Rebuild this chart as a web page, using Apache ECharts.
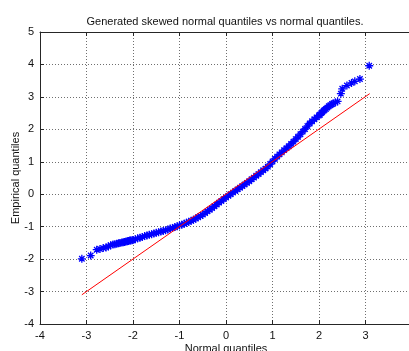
<!DOCTYPE html>
<html>
<head>
<meta charset="utf-8">
<script src="https://cdn.jsdelivr.net/npm/echarts@6/dist/echarts.min.js"></script>
<style>
  html, body { margin: 0; padding: 0; background: #ffffff; }
  #chart { width: 409px; height: 351px; }
</style>
</head>
<body>
<div id="chart"></div>
<script>
// Normal (theoretical) quantiles of the sample
const normalQuantiles = [
  -3.10, -2.91, -2.78, -2.71, -2.64, -2.58, -2.53, -2.48, -2.43, -2.39,
  -2.35, -2.31, -2.28, -2.24, -2.21, -2.18, -2.15, -2.12, -2.10, -2.07,
  -2.05, -2.02,
  -2.00, -1.95, -1.90, -1.85, -1.80, -1.75, -1.70, -1.65, -1.60, -1.55,
  -1.50, -1.45, -1.40, -1.35, -1.30, -1.25, -1.20, -1.15, -1.10, -1.05,
  -1.00, -0.95, -0.90, -0.85, -0.80, -0.75, -0.70, -0.65, -0.60, -0.55,
  -0.50, -0.45, -0.40, -0.35, -0.30, -0.25, -0.20, -0.15, -0.10, -0.05,
   0.00,  0.05,  0.10,  0.15,  0.20,  0.25,  0.30,  0.35,  0.40,  0.45,
   0.50,  0.55,  0.60,  0.65,  0.70,  0.75,  0.80,  0.85,  0.90,  0.95,
   1.00,  1.05,  1.10,  1.15,  1.20,  1.25,  1.30,  1.35,  1.40,  1.45,
   1.50,  1.55,  1.60,  1.65,  1.70,  1.75,  1.80,  1.85,  1.90,  1.95,
   2.00,  2.02,  2.05,  2.07,  2.10,  2.12,  2.15,  2.18,  2.21,  2.24,
   2.28,  2.31,  2.35,  2.40,
   2.47,  2.50,  2.60,  2.70,  2.77,  2.88,  3.08
];

// Empirical quantiles of the generated skewed sample
const empiricalQuantiles = [
  -1.99, -1.89, -1.71, -1.69, -1.66, -1.64, -1.61, -1.57, -1.55, -1.54,
  -1.53, -1.51, -1.50, -1.49, -1.48, -1.47, -1.46, -1.45, -1.44, -1.43,
  -1.43, -1.42,
  -1.41, -1.39, -1.36, -1.34, -1.32, -1.29, -1.27, -1.25, -1.23, -1.21,
  -1.19, -1.17, -1.15, -1.13, -1.11, -1.09, -1.06, -1.04, -1.01, -0.99,
  -0.96, -0.94, -0.91, -0.88, -0.85, -0.82, -0.79, -0.75, -0.71, -0.67,
  -0.63, -0.58, -0.53, -0.48, -0.43, -0.37, -0.32, -0.26, -0.21, -0.15,
  -0.10, -0.05,  0.00,  0.05,  0.10,  0.15,  0.20,  0.25,  0.30,  0.35,
   0.40,  0.46,  0.51,  0.57,  0.62,  0.68,  0.74,  0.79,  0.85,  0.93,
   1.01,  1.09,  1.16,  1.23,  1.29,  1.36,  1.42,  1.48,  1.55,  1.62,
   1.70,  1.77,  1.85,  1.93,  2.01,  2.10,  2.18,  2.25,  2.31,  2.37,
   2.43,  2.45,  2.50,  2.53,  2.57,  2.60,  2.63,  2.67,  2.71,  2.74,
   2.78,  2.80,  2.83,  2.86,
   3.10,  3.25,  3.35,  3.43,  3.48,  3.55,  3.96
];

// Reference line end points (x, y)
const refLineX = [-3.10, 3.09];
const refLineY = [-3.10, 3.10];

// Axis ranges and ticks
const xTicks = [-4, -3, -2, -1, 0, 1, 2, 3, 4];
const yTicks = [-4, -3, -2, -1, 0, 1, 2, 3, 4, 5];

const titleText = 'Generated skewed normal quantiles vs normal quantiles.';
const xName = 'Normal quantiles';
const yName = 'Empirical quantiles';

const points = normalQuantiles.map((x, i) => [x, empiricalQuantiles[i]]);
const refLine = refLineX.map((x, i) => [x, refLineY[i]]);

const FONT = 'Liberation Sans, Arial, Helvetica, sans-serif';
const axisColor = '#262626';
const gridLine = { show: true, lineStyle: { color: '#6f6f6f', width: 1, type: [1, 2] } };

const chart = echarts.init(document.getElementById('chart'), null, { renderer: 'canvas' });
chart.setOption({
  animation: false,
  backgroundColor: '#ffffff',
  title: {
    text: titleText,
    left: 220,
    top: 11,
    textAlign: 'center',
    textStyle: { fontFamily: FONT, fontSize: 11, fontWeight: 'normal', color: '#111' }
  },
  // the plot box runs slightly past the right edge of the canvas
  grid: { left: 40, top: 32, right: -3, bottom: 27, containLabel: false, outerBoundsMode: 'none' },
  xAxis: [{
    type: 'value',
    min: xTicks[0], max: xTicks[xTicks.length - 1], interval: 1,
    position: 'bottom',
    name: xName, nameLocation: 'middle', nameGap: 19, nameMoveOverlap: false,
    nameTextStyle: { fontFamily: FONT, fontSize: 11, color: '#111' },
    axisLine: { show: true, onZero: false, lineStyle: { color: axisColor, width: 1 } },
    axisTick: { show: true, inside: true, length: 4, lineStyle: { color: axisColor } },
    axisLabel: { fontFamily: FONT, fontSize: 11, color: '#111', margin: 6 },
    splitLine: gridLine
  }, {
    type: 'value',
    min: xTicks[0], max: xTicks[xTicks.length - 1], interval: 1,
    position: 'top',
    axisLine: { show: true, onZero: false, lineStyle: { color: axisColor, width: 1 } },
    axisTick: { show: true, inside: true, length: 4, lineStyle: { color: axisColor } },
    axisLabel: { show: false },
    splitLine: { show: false }
  }],
  yAxis: [{
    type: 'value',
    min: yTicks[0], max: yTicks[yTicks.length - 1], interval: 1,
    position: 'left',
    name: yName, nameLocation: 'middle', nameGap: 19, nameMoveOverlap: false,
    nameTextStyle: { fontFamily: FONT, fontSize: 11, color: '#111' },
    axisLine: { show: true, onZero: false, lineStyle: { color: axisColor, width: 1 } },
    axisTick: { show: true, inside: true, length: 4, lineStyle: { color: axisColor } },
    axisLabel: { fontFamily: FONT, fontSize: 11, color: '#111', margin: 6 },
    splitLine: gridLine
  }],
  series: [{
    type: 'scatter',
    data: points,
    symbol: 'path://M5,0L5,10M0,5L10,5M1.6,1.6L8.4,8.4M1.6,8.4L8.4,1.6',
    symbolSize: 8,
    itemStyle: { color: 'transparent', borderColor: '#0000ff', borderWidth: 1.3, opacity: 1 },
    z: 2
  }, {
    type: 'line',
    data: refLine,
    showSymbol: false,
    symbol: 'none',
    lineStyle: { color: '#ff0000', width: 1 },
    z: 3
  }]
});
</script>
</body>
</html>
